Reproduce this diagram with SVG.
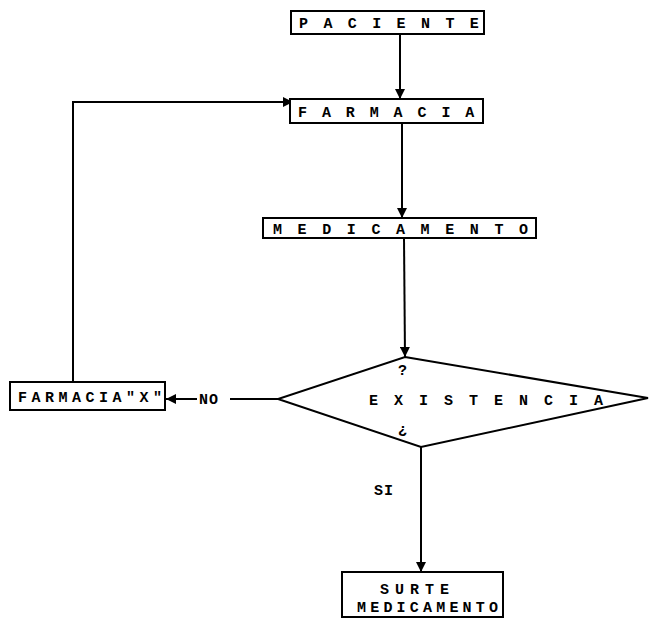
<svg xmlns="http://www.w3.org/2000/svg" width="650" height="627" viewBox="0 0 650 627">
<defs>
<marker id="arr" viewBox="0 0 10 10" refX="10" refY="5" markerWidth="10" markerHeight="10" markerUnits="userSpaceOnUse" orient="auto">
<path d="M0,0 L10,5 L0,10 z" fill="#000"/>
</marker>
<style>
.box{fill:#fff;stroke:#000;stroke-width:2}
.t{font-family:"Liberation Mono","DejaVu Sans Mono",monospace;font-weight:bold;font-size:15px;fill:#000}
.line{fill:none;stroke:#000;stroke-width:2}
</style>
</defs>
<rect width="650" height="627" fill="#fff"/>
<g id="connectors">
<line class="line" x1="400" y1="34" x2="400" y2="99" marker-end="url(#arr)"/>
<line class="line" x1="402" y1="123" x2="402" y2="218" marker-end="url(#arr)"/>
<line class="line" x1="404" y1="238" x2="405" y2="357" marker-end="url(#arr)"/>
<polyline class="line" points="73,382 73,102 293,102" marker-end="url(#arr)"/>
<line class="line" x1="278" y1="399" x2="230" y2="399"/>
<line class="line" x1="197" y1="399" x2="166" y2="399" marker-end="url(#arr)"/>
<line class="line" x1="421" y1="447" x2="421" y2="572" marker-end="url(#arr)"/>
<text class="t" x="199" y="404" letter-spacing="1">NO</text>
<text class="t" x="374" y="495" letter-spacing="1">SI</text>
</g>
<g id="paciente">
<rect class="box" x="291" y="11" width="193" height="23"/>
<text class="t" x="299" y="28" letter-spacing="15.4">PACIENTE</text>
</g>
<g id="farmacia">
<rect class="box" x="290" y="99" width="193" height="24"/>
<text class="t" x="298" y="117" letter-spacing="14.9">FARMACIA</text>
</g>
<g id="medicamento">
<rect class="box" x="263" y="218" width="273" height="20"/>
<text class="t" x="273" y="234" letter-spacing="15.6">MEDICAMENTO</text>
</g>
<g id="existencia">
<polygon class="line" points="405,357 648,398 421,447 278,399" fill="#fff"/>
<text class="t" x="398" y="375">?</text>
<text class="t" x="369" y="405" letter-spacing="16">EXISTENCIA</text>
<text class="t" x="398" y="434">¿</text>
</g>
<g id="farmacia-x">
<rect class="box" x="10" y="382" width="155" height="28"/>
<text class="t" x="18" y="402" letter-spacing="4.5">FARMACIA"X"</text>
</g>
<g id="surte">
<rect class="box" x="342" y="572" width="161" height="45"/>
<text class="t" x="380" y="594" letter-spacing="6">SURTE</text>
<text class="t" x="357" y="612" letter-spacing="4.2">MEDICAMENTO</text>
</g>
</svg>
